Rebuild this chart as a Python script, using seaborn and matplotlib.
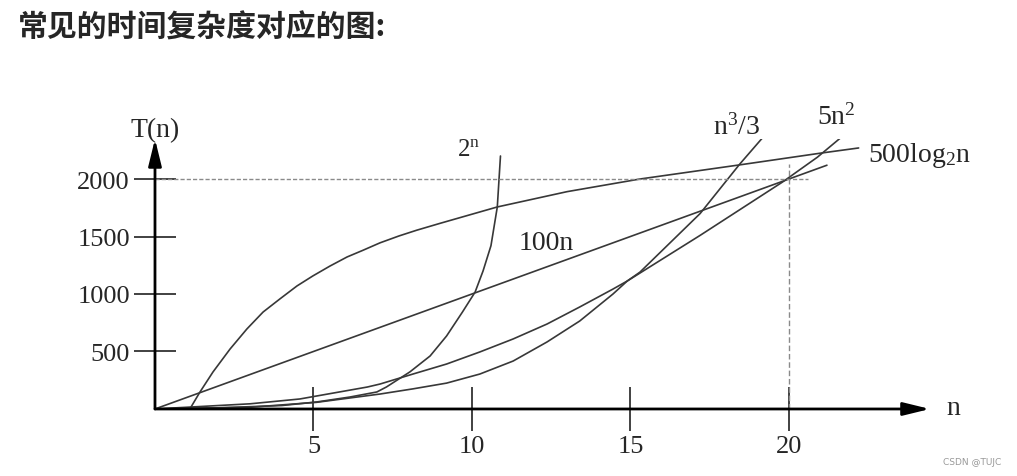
import pandas as pd
import matplotlib
matplotlib.use("Agg")
import matplotlib.pyplot as plt
import seaborn as sns

# values (not the exact formulas, the drawing is hand made)
n_log = [1.1, 1.42, 1.83, 2.37, 2.9, 3.41, 3.94, 4.48, 4.98, 5.52, 6.06, 6.56, 7.1, 7.7,
         8.26, 9.0, 10.8, 13.0, 15.3, 18.5, 20.0, 21.0, 22.2]
t_log = [0, 148, 322, 522, 696, 843, 957, 1070, 1157, 1243, 1322, 1380, 1445, 1505,
         1555, 1615, 1757, 1890, 2000, 2125, 2185, 2225, 2270]

n_lin = [0, 5, 10, 15, 20, 21.2]
t_lin = [0, 500, 1000, 1500, 2000, 2120]

n_exp = [0, 2, 4, 5.1, 6.15, 7.0, 7.3, 8.04, 8.68, 9.2, 9.7, 10.1, 10.35, 10.6, 10.8, 10.9]
t_exp = [0, 10, 30, 61, 104, 148, 191, 322, 461, 635, 843, 1017, 1200, 1420, 1757, 2200]

n_sq = [0, 3, 4.57, 6.7, 7.1, 8.14, 9.2, 10.25, 11.3, 12.37, 13.4, 14.45, 14.9, 17.2, 19.8, 20.9, 21.9]
t_sq = [0, 45, 87, 191, 217, 304, 391, 496, 609, 739, 887, 1043, 1113, 1510, 1974, 2190, 2420]

n_cube = [0, 3, 5.1, 7.1, 8.14, 9.2, 10.25, 11.3, 12.37, 13.4, 14.45, 14.9, 15.3, 17.2, 18.45, 19.6]
t_cube = [0, 15, 58, 130, 175, 225, 304, 417, 583, 765, 1000, 1113, 1190, 1700, 2130, 2496]

x_ticks = [5, 10, 15, 20]
y_ticks = [500, 1000, 1500, 2000]
ref_t = 2000
ref_n = 20

sns.set_style("white")
plt.rcParams["font.family"] = ["Liberation Serif", "DejaVu Serif"]
plt.rcParams["mathtext.fontset"] = "custom"
plt.rcParams["mathtext.rm"] = "Liberation Serif"
plt.rcParams["mathtext.it"] = "Liberation Serif:italic"

fig = plt.figure(figsize=(10.17, 4.77), dpi=100)
ax = fig.add_axes([0.1524, 0.1405, 0.762, 0.566])

line_kw = dict(color="#383838", linewidth=1.2, estimator=None, ax=ax)
sns.lineplot(x=n_log, y=t_log, **line_kw)
sns.lineplot(x=n_lin, y=t_lin, **line_kw)
sns.lineplot(x=n_exp, y=t_exp, **line_kw)
sns.lineplot(x=n_sq, y=t_sq, **line_kw)
sns.lineplot(x=n_cube, y=t_cube, **line_kw)

# reference lines
ax.hlines(ref_t, 0, 20.6, colors="#8a8a8a", linewidth=1, linestyles=(0, (3, 1.5)))
ax.vlines(ref_n, 0, 2130, colors="#8a8a8a", linewidth=1, linestyles=(0, (4, 2)))

ax.set_xlim(0, 24.45)
ax.set_ylim(0, 2348)
for s in ax.spines.values():
    s.set_visible(False)

# axes with arrows
arrow = dict(arrowstyle="-|>,head_length=0.9,head_width=0.22", lw=2, color="black",
             shrinkA=0, shrinkB=0, mutation_scale=18)
ax.annotate("", xy=(0, 1.0), xytext=(0, 0), xycoords="axes fraction", arrowprops=arrow)
ax.annotate("", xy=(1.0, 0), xytext=(0, 0), xycoords="axes fraction", arrowprops=arrow)

ax.set_xticks(x_ticks)
ax.set_yticks(y_ticks)
ax.tick_params(axis="y", direction="inout", length=30, width=1.3, color="#333333",
               pad=3, labelsize=19, left=True)
ax.tick_params(axis="x", direction="inout", length=32, width=1.3, color="#333333",
               pad=3, labelsize=19, bottom=True)

ax.text(0, 2426, "T(n)", fontsize=20, ha="center", va="center")
ax.text(25.2, 17, "n", fontsize=20, ha="center", va="center")
ax.text(9.9, 2261, "2$^\\mathrm{n}$", fontsize=18, ha="center", va="center")
ax.text(18.36, 2461, "n$^3$/3", fontsize=20, ha="center", va="center")
ax.text(21.5, 2548, "5n$^2$", fontsize=20, ha="center", va="center")
ax.text(22.5, 2217, "500log$_2$n", fontsize=20, ha="left", va="center")
ax.text(12.33, 1452, "100n", fontsize=20, ha="center", va="center")

fig.text(0.018, 0.943, "常见的时间复杂度对应的图:", fontsize=21.5, ha="left", va="center",
         weight="bold", family=["Noto Sans CJK SC", "DejaVu Sans"])
fig.text(0.985, 0.03, "CSDN @TUJC", fontsize=6.5, color="#999999", ha="right", va="center",
         family=["DejaVu Sans"])

plt.savefig("out.png", dpi=100)
